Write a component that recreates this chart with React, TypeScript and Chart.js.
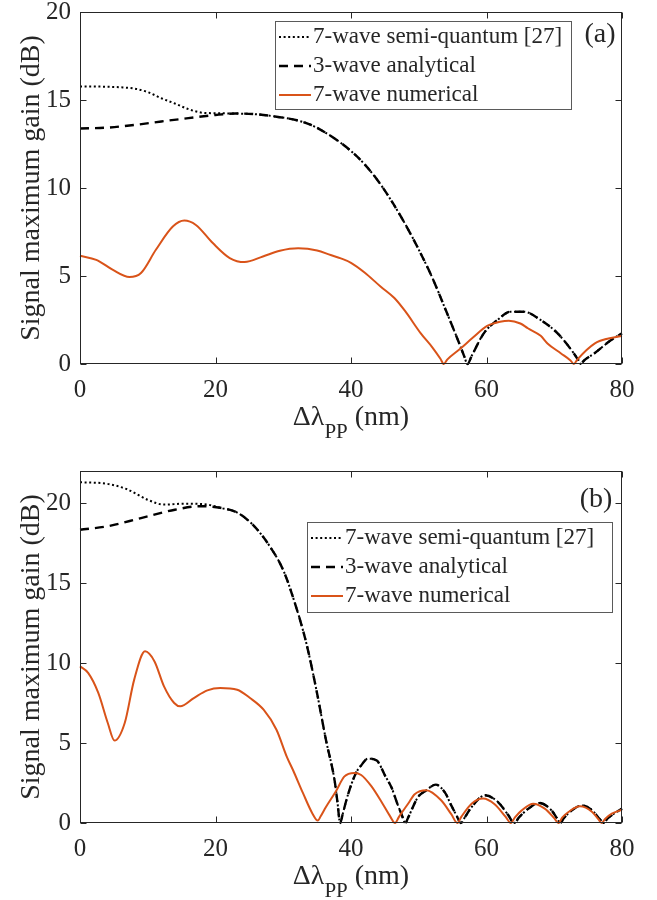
import React, { useEffect, useRef } from 'react';
import { Chart, registerables } from 'chart.js';

Chart.register(...registerables);

// ---------- data ----------
const SERIES_NAMES = ['7-wave semi-quantum [27]', '3-wave analytical', '7-wave numerical'];
const X_TICKS = [0, 20, 40, 60, 80];
const Y_TICKS_A = [0, 5, 10, 15, 20];
const Y_TICKS_B = [0, 5, 10, 15, 20];
const PANEL_LABELS = ['(a)', '(b)'];

// Panel (a)
const A_SEMI_X = [0, 3, 6, 8, 10, 12, 14, 16, 18, 20, 23, 26, 29, 32, 34, 36, 38, 40, 42, 44, 46, 48, 50, 52, 54, 56, 56.7, 57.2, 57.8, 59.6, 61.6, 63.6, 65.5, 68, 70.5, 72.9, 73.5, 73.9, 74.4, 75.9, 78.4, 80];
const A_SEMI_Y = [15.77, 15.76, 15.72, 15.65, 15.45, 15.1, 14.8, 14.48, 14.28, 14.25, 14.23, 14.19, 14.05, 13.85, 13.6, 13.2, 12.7, 12.1, 11.35, 10.4, 9.25, 7.95, 6.5, 4.9, 3.05, 1.15, 0.45, 0, 0.45, 1.74, 2.5, 2.97, 2.97, 2.5, 1.74, 0.6, 0.25, 0, 0.2, 0.6, 1.36, 1.74];
const A_ANA_X = [0, 4, 8, 12, 16, 20, 23, 26, 29, 32, 34, 36, 38, 40, 42, 44, 46, 48, 50, 52, 54, 56, 56.7, 57.2, 57.8, 59.6, 61.6, 63.6, 65.5, 68, 70.5, 72.9, 73.5, 73.9, 74.4, 75.9, 78.4, 80];
const A_ANA_Y = [13.38, 13.43, 13.58, 13.78, 13.97, 14.15, 14.23, 14.19, 14.05, 13.85, 13.6, 13.2, 12.7, 12.1, 11.35, 10.4, 9.25, 7.95, 6.5, 4.9, 3.05, 1.15, 0.45, 0, 0.45, 1.74, 2.5, 2.97, 2.97, 2.5, 1.74, 0.6, 0.25, 0, 0.2, 0.6, 1.36, 1.74];
const A_NUM_X = [0, 2.4, 4.8, 7.3, 9, 11.2, 13.7, 15.4, 17.1, 19.6, 22.1, 24.3, 27, 29.5, 32.2, 35, 37, 38.5, 40, 42, 44.4, 46.4, 48, 50.3, 52, 53.2, 53.7, 54.2, 56.2, 58, 60.1, 62, 63.3, 65, 66.1, 68, 69, 71, 72.4, 72.9, 73.4, 76, 78, 80];
const A_NUM_Y = [6.15, 5.92, 5.36, 4.94, 5.17, 6.49, 7.81, 8.15, 7.9, 6.87, 6.02, 5.79, 6.11, 6.43, 6.57, 6.45, 6.19, 6.0, 5.75, 5.2, 4.39, 3.75, 3.0, 1.74, 0.95, 0.3, 0, 0.25, 0.89, 1.5, 2.16, 2.4, 2.46, 2.3, 2.03, 1.6, 1.17, 0.6, 0.2, 0, 0.25, 1.17, 1.45, 1.59];

// Panel (b)
const B_SEMI_X = [0, 4, 7, 10, 12.4, 15.4, 18.8, 20.7, 23.2, 25.6, 28, 30, 31.6, 33.4, 34.9, 36.3, 37.6, 38.0, 38.4, 38.8, 39.5, 40.7, 41.5, 42.5, 43.8, 45.1, 46, 46.8, 47.5, 48, 48.5, 49.9, 51, 52.5, 53.9, 54.8, 55.6, 56.2, 56.8, 57.8, 59.8, 61.7, 63.2, 64.1, 64.8, 66.2, 67.8, 69.6, 70.4, 70.9, 71.4, 72.6, 74.1, 75.6, 76.7, 77.3, 77.8, 78.8, 80];
const B_SEMI_Y = [21.3, 21.2, 20.85, 20.2, 19.9, 19.96, 19.9, 19.7, 19.4, 18.6, 17.3, 15.8, 13.9, 11.25, 8.3, 5.2, 2.6, 1.3, 0, 0.6, 1.7, 3.1, 3.6, 4.02, 3.9, 2.9, 2.2, 1.25, 0.5, 0, 0.4, 1.63, 2.0, 2.4, 1.88, 1.1, 0.45, 0, 0.35, 1.0, 1.73, 1.31, 0.5, 0, 0.35, 0.9, 1.25, 0.79, 0.3, 0, 0.3, 0.79, 1.1, 0.79, 0.25, 0, 0.25, 0.58, 0.9];
const B_ANA_X = [0, 4, 9, 14, 17.8, 20.7, 23.2, 25.6, 28, 30, 31.6, 33.4, 34.9, 36.3, 37.6, 38.0, 38.4, 38.8, 39.5, 40.7, 41.5, 42.5, 43.8, 45.1, 46, 46.8, 47.5, 48, 48.5, 49.9, 51, 52.5, 53.9, 54.8, 55.6, 56.2, 56.8, 57.8, 59.8, 61.7, 63.2, 64.1, 64.8, 66.2, 67.8, 69.6, 70.4, 70.9, 71.4, 72.6, 74.1, 75.6, 76.7, 77.3, 77.8, 78.8, 80];
const B_ANA_Y = [18.33, 18.54, 19.06, 19.58, 19.8, 19.7, 19.4, 18.6, 17.3, 15.8, 13.9, 11.25, 8.3, 5.2, 2.6, 1.3, 0, 0.6, 1.7, 3.1, 3.6, 4.02, 3.9, 2.9, 2.2, 1.25, 0.5, 0, 0.4, 1.63, 2.0, 2.4, 1.88, 1.1, 0.45, 0, 0.35, 1.0, 1.73, 1.31, 0.5, 0, 0.35, 0.9, 1.25, 0.79, 0.3, 0, 0.3, 0.79, 1.1, 0.79, 0.25, 0, 0.25, 0.58, 0.9];
const B_NUM_X = [0, 1.2, 2.7, 4.1, 5.1, 6.6, 8.0, 9.6, 11, 12.4, 13.9, 14.8, 16.8, 18.8, 20.7, 23.2, 25.1, 27.1, 29, 30.5, 31.5, 32.9, 34.3, 35.1, 35.5, 36.3, 37.8, 39.0, 40.5, 41.5, 43, 44.6, 45.8, 46.5, 47.1, 48.5, 49.4, 51.1, 53.3, 54.8, 55.7, 56.3, 57.8, 59.5, 61.2, 62.8, 63.6, 64.2, 65.2, 66.9, 68.6, 70.0, 70.6, 71.2, 72.1, 73.8, 75.6, 76.5, 77.0, 77.5, 78.5, 80];
const B_NUM_Y = [9.79, 9.38, 8.13, 6.25, 5.15, 6.25, 8.96, 10.73, 10.1, 8.54, 7.5, 7.29, 7.81, 8.29, 8.44, 8.33, 7.81, 7.08, 5.83, 4.17, 3.25, 1.88, 0.6, 0.15, 0.4, 1.0, 2.0, 2.9, 3.13, 3.0, 2.3, 1.25, 0.4, 0, 0.4, 1.25, 1.8, 2.05, 1.42, 0.55, 0, 0.4, 1.21, 1.53, 1.17, 0.4, 0, 0.35, 0.79, 1.21, 0.9, 0.3, 0, 0.35, 0.69, 1.04, 0.69, 0.25, 0, 0.25, 0.58, 0.83];

// ---------- styles ----------
const FONT_NAME = 'Liberation Serif';
const FONT = '"Liberation Serif", "Times New Roman", "DejaVu Serif", serif';
const AXIS_COLOR = '#262626';
const ORANGE = '#D95319';
const STYLES = [
  { color: '#000000', width: 2, dash: [2, 2.6] },
  { color: '#000000', width: 2.4, dash: [9, 6] },
  { color: ORANGE, width: 2, dash: [] as number[] },
];

const W = 657;

const pts = (xs: number[], ys: number[]) => xs.map((x, i) => ({ x, y: ys[i] }));

type Panel = {
  height: number;
  areaTop: number;
  areaBottom: number;
  yMax: number;
  yTicks: number[];
  series: { x: number[]; y: number[] }[];
  label: string;
  legend: { x: number; y: number; w: number; h: number };
  labelPos: { x: number; y: number };
};

const PANELS: Panel[] = [
  {
    height: 440,
    areaTop: 12,
    areaBottom: 364,
    yMax: 20,
    yTicks: Y_TICKS_A,
    series: [
      { x: A_SEMI_X, y: A_SEMI_Y },
      { x: A_ANA_X, y: A_ANA_Y },
      { x: A_NUM_X, y: A_NUM_Y },
    ],
    label: PANEL_LABELS[0],
    legend: { x: 275, y: 21, w: 296, h: 88 },
    labelPos: { x: 600, y: 35 },
  },
  {
    height: 460,
    areaTop: 31,
    areaBottom: 383,
    yMax: 22,
    yTicks: Y_TICKS_B,
    series: [
      { x: B_SEMI_X, y: B_SEMI_Y },
      { x: B_ANA_X, y: B_ANA_Y },
      { x: B_NUM_X, y: B_NUM_Y },
    ],
    label: PANEL_LABELS[1],
    legend: { x: 307, y: 82, w: 305, h: 90 },
    labelPos: { x: 596, y: 60 },
  },
];

const AREA_LEFT = 80;
const AREA_RIGHT = 622;

function decorPlugin(panel: Panel) {
  return {
    id: 'decor',
    afterDraw(chart: any) {
      const { ctx, chartArea: a, scales } = chart;
      const xs = scales.x;
      const ys = scales.y;
      ctx.save();
      ctx.setLineDash([]);
      ctx.strokeStyle = AXIS_COLOR;
      ctx.lineWidth = 1;
      const L = Math.round(a.left) + 0.5;
      const R = Math.round(a.right) - 0.5;
      const T = Math.round(a.top) + 0.5;
      const B = Math.round(a.bottom) - 0.5;
      ctx.strokeRect(L, T, R - L, B - T);
      const tl = 6;
      ctx.beginPath();
      X_TICKS.forEach((v) => {
        const px = Math.round(xs.getPixelForValue(v)) + 0.5;
        ctx.moveTo(px, B);
        ctx.lineTo(px, B - tl);
        ctx.moveTo(px, T);
        ctx.lineTo(px, T + tl);
      });
      panel.yTicks.forEach((v) => {
        const py = Math.round(ys.getPixelForValue(v)) + 0.5;
        ctx.moveTo(L, py);
        ctx.lineTo(L + tl, py);
        ctx.moveTo(R, py);
        ctx.lineTo(R - tl, py);
      });
      ctx.stroke();

      // legend box
      const lg = panel.legend;
      ctx.fillStyle = '#ffffff';
      ctx.fillRect(lg.x, lg.y, lg.w, lg.h);
      ctx.strokeStyle = '#5a5a5a';
      ctx.lineWidth = 1;
      ctx.strokeRect(lg.x + 0.5, lg.y + 0.5, lg.w, lg.h);
      ctx.font = `23px ${FONT}`;
      ctx.textBaseline = 'middle';
      ctx.textAlign = 'left';
      SERIES_NAMES.forEach((name, i) => {
        const cy = lg.y + 16 + i * 29;
        const st = STYLES[i];
        ctx.beginPath();
        ctx.strokeStyle = st.color;
        ctx.lineWidth = st.width;
        ctx.setLineDash(st.dash);
        ctx.moveTo(lg.x + 4, cy);
        ctx.lineTo(lg.x + 36, cy);
        ctx.stroke();
        ctx.setLineDash([]);
        ctx.fillStyle = AXIS_COLOR;
        ctx.fillText(name, lg.x + 38, cy);
      });

      // panel label
      ctx.font = `28px ${FONT}`;
      ctx.textAlign = 'center';
      ctx.fillStyle = AXIS_COLOR;
      ctx.fillText(panel.label, panel.labelPos.x, panel.labelPos.y);

      // x title with subscript
      const mainFont = `28px ${FONT}`;
      const subFont = `21px ${FONT}`;
      const p1 = '\u0394\u03bb';
      const p2 = 'PP';
      const p3 = ' (nm)';
      ctx.font = mainFont;
      const w1 = ctx.measureText(p1).width;
      const w3 = ctx.measureText(p3).width;
      ctx.font = subFont;
      const w2 = ctx.measureText(p2).width;
      const total = w1 + w2 + w3;
      const cx = (a.left + a.right) / 2;
      const x0 = cx - total / 2;
      const ty = a.bottom + 54;
      ctx.textAlign = 'left';
      ctx.font = mainFont;
      ctx.fillText(p1, x0, ty);
      ctx.font = subFont;
      ctx.fillText(p2, x0 + w1, ty + 14);
      ctx.font = mainFont;
      ctx.fillText(p3, x0 + w1 + w2, ty);

      // y title
      ctx.save();
      ctx.translate(32, (a.top + a.bottom) / 2);
      ctx.rotate(-Math.PI / 2);
      ctx.textAlign = 'center';
      ctx.textBaseline = 'middle';
      ctx.font = mainFont;
      ctx.fillText('Signal maximum gain (dB)', 0, 0);
      ctx.restore();

      ctx.restore();
    },
  };
}

function buildChart(canvas: HTMLCanvasElement, panel: Panel) {
  const orders = [3, 2, 1];
  return new Chart(canvas, {
    type: 'line',
    data: {
      datasets: panel.series.map((s, i) => ({
        label: SERIES_NAMES[i],
        data: pts(s.x, s.y),
        borderColor: STYLES[i].color,
        borderWidth: STYLES[i].width,
        borderDash: STYLES[i].dash,
        pointRadius: 0,
        fill: false,
        cubicInterpolationMode: 'monotone',
        clip: false,
        order: orders[i],
      })),
    },
    options: {
      animation: false,
      responsive: false,
      maintainAspectRatio: false,
      devicePixelRatio: 1,
      events: [],
      layout: { padding: { left: 0, right: W - AREA_RIGHT, top: panel.areaTop, bottom: 0 } },
      plugins: { legend: { display: false }, tooltip: { enabled: false }, title: { display: false } },
      scales: {
        x: {
          type: 'linear',
          min: 0,
          max: 80,
          grid: { display: false, drawTicks: false },
          border: { display: false },
          afterBuildTicks: (s: any) => {
            s.ticks = X_TICKS.map((v) => ({ value: v }));
          },
          afterFit: (s: any) => {
            s.height = panel.height - panel.areaBottom;
            s.paddingLeft = 0;
            s.paddingRight = 0;
          },
          ticks: {
            font: { family: FONT, size: 25 },
            color: AXIS_COLOR,
            padding: 11,
            maxRotation: 0,
            autoSkip: false,
          },
        },
        y: {
          type: 'linear',
          min: 0,
          max: panel.yMax,
          grid: { display: false, drawTicks: false },
          border: { display: false },
          afterBuildTicks: (s: any) => {
            s.ticks = panel.yTicks.map((v) => ({ value: v }));
          },
          afterFit: (s: any) => {
            s.width = AREA_LEFT;
            s.paddingTop = 0;
            s.paddingBottom = 0;
          },
          ticks: {
            font: { family: FONT, size: 25 },
            color: AXIS_COLOR,
            padding: 9,
            autoSkip: false,
          },
        },
      },
    },
    plugins: [decorPlugin(panel)],
  } as any);
}

function PanelChart({ panel, top }: { panel: Panel; top: number }) {
  const ref = useRef<HTMLCanvasElement | null>(null);
  useEffect(() => {
    if (!ref.current) return;
    const chart = buildChart(ref.current, panel);
    let alive = true;
    const fonts = (document as any).fonts;
    if (fonts && fonts.load) {
      Promise.all([
        fonts.load(`25px "${FONT_NAME}"`),
        fonts.load(`23px "${FONT_NAME}"`),
        fonts.load(`21px "${FONT_NAME}"`),
      ]).then(
        () => {
          if (alive) chart.update();
        },
        () => {}
      );
    }
    return () => {
      alive = false;
      chart.destroy();
    };
  }, [panel]);
  return (
    <canvas
      ref={ref}
      width={W}
      height={panel.height}
      style={{ position: 'absolute', left: 0, top, width: W, height: panel.height, display: 'block' }}
    />
  );
}

export default function App() {
  return (
    <div style={{ position: 'absolute', left: 0, top: 0, width: W, height: 900, background: '#ffffff' }}>
      <span style={{ position: 'absolute', left: -9999, top: 0, fontFamily: FONT, fontSize: 25 }}>
        Signal Δλ 0123456789 (nm)
      </span>
      <PanelChart panel={PANELS[0]} top={0} />
      <PanelChart panel={PANELS[1]} top={440} />
    </div>
  );
}
